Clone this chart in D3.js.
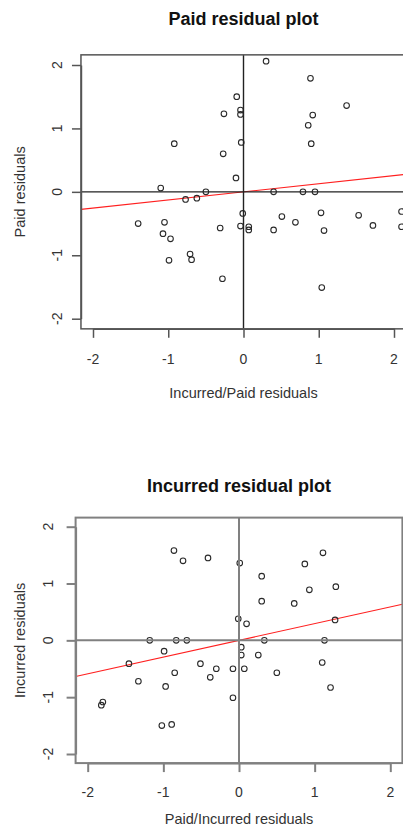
<!DOCTYPE html>
<html><head><meta charset="utf-8">
<script src="https://cdn.jsdelivr.net/npm/d3@7"></script>
<style>body{margin:0;background:#fff}svg{display:block}text{font-family:"Liberation Sans",Arial,Helvetica,sans-serif}</style>
</head><body>
<script>
// ---- Data ----
const xTicks = [-2, -1, 0, 1, 2];
const yTicks = [-2, -1, 0, 1, 2];

// Paid residual plot: x = Incurred/Paid residuals, y = Paid residuals
const paidX = [-0.09,-0.26,-0.04,-0.04,-0.92,-0.03,-0.27,-0.10,-1.10,-0.50,
               0.30,0.89,1.37,0.92,0.86,0.90,0.40,0.79,0.95,-0.77,
               -0.62,-1.40,-1.05,-1.07,-0.97,-0.71,-0.69,-0.99,-0.31,-0.04,
               -0.01,0.07,0.07,0.40,0.51,0.69,1.03,1.07,1.53,1.72,
               2.10,2.10,1.04,-0.28];
const paidY = [1.50,1.23,1.29,1.22,0.76,0.78,0.60,0.22,0.06,0.00,
               2.06,1.79,1.36,1.21,1.05,0.76,0.00,0.00,0.00,-0.12,
               -0.10,-0.50,-0.48,-0.66,-0.74,-0.98,-1.07,-1.08,-0.57,-0.54,
               -0.34,-0.55,-0.60,-0.60,-0.39,-0.48,-0.33,-0.61,-0.37,-0.53,
               -0.31,-0.55,-1.51,-1.37];
const paidFit = [0.0, 0.128]; // intercept, slope

// Incurred residual plot: x = Paid/Incurred residuals, y = Incurred residuals
const incX = [-0.86,-0.74,-0.41,0.01,-0.01,-1.18,-0.83,-0.69,-0.99,-1.455,
              -0.51,-0.85,-0.30,-0.08,-1.33,-0.38,-0.97,-0.08,-1.80,-1.82,
              -1.02,-0.89,1.11,0.87,0.30,1.28,0.93,0.30,0.73,0.10,
              1.27,0.335,1.13,0.03,0.03,0.255,0.07,0.50,1.10,1.21];
const incY = [1.58,1.40,1.45,1.36,0.38,0.00,0.00,0.00,-0.19,-0.41,
              -0.41,-0.57,-0.50,-0.50,-0.72,-0.65,-0.81,-1.01,-1.085,-1.14,
              -1.50,-1.48,1.54,1.345,1.13,0.945,0.89,0.69,0.65,0.29,
              0.36,0.00,0.00,-0.12,-0.26,-0.26,-0.50,-0.57,-0.39,-0.83];
const incFit = [0.0, 0.294];

const svg = d3.select("body").append("svg").attr("width", 403).attr("height", 827);

function panel(c) {
  const lim = 2.16;
  const x = d3.scaleLinear().domain([-2, 2]).range(c.xr);
  const y = d3.scaleLinear().domain([-2, 2]).range(c.yr);
  const x0 = x(-lim), x1 = x(lim), y0 = y(-lim), y1 = y(lim);
  const g = svg.append("g");

  g.append("defs").append("clipPath").attr("id", c.id)
    .append("rect").attr("x", x0).attr("y", y1).attr("width", x1 - x0).attr("height", y0 - y1);
  const plot = g.append("g").attr("clip-path", `url(#${c.id})`);

  // reference lines h=0, v=0
  g.append("line").attr("x1", x0).attr("x2", x1).attr("y1", y(0)).attr("y2", y(0))
    .attr("stroke", c.refCol).attr("stroke-width", c.refW);
  g.append("line").attr("x1", x(0)).attr("x2", x(0)).attr("y1", y1).attr("y2", y0)
    .attr("stroke", c.refCol).attr("stroke-width", c.refW);

  // fitted line
  plot.append("line")
    .attr("x1", x(-lim)).attr("y1", y(c.fit[0] + c.fit[1] * -lim))
    .attr("x2", x(lim)).attr("y2", y(c.fit[0] + c.fit[1] * lim))
    .attr("stroke", "#ff2020").attr("stroke-width", 1.1);

  // points
  plot.selectAll("circle").data(d3.range(c.xs.length)).join("circle")
    .attr("cx", i => x(c.xs[i])).attr("cy", i => y(c.ys[i])).attr("r", 2.8)
    .attr("fill", "none").attr("stroke", "#2a2a2a").attr("stroke-width", 1.1);

  // box
  g.append("rect").attr("x", x0).attr("y", y1).attr("width", x1 - x0).attr("height", y0 - y1)
    .attr("fill", "none").attr("stroke", c.boxCol).attr("stroke-width", c.boxW);

  // axes
  const ax = g.append("g").attr("transform", `translate(0,${y0})`)
    .call(d3.axisBottom(x).tickValues(xTicks).tickSize(9).tickSizeOuter(0).tickFormat(""));
  const ay = g.append("g").attr("transform", `translate(${x0},0)`)
    .call(d3.axisLeft(y).tickValues(yTicks).tickSize(9).tickSizeOuter(0).tickFormat(""));
  [ax, ay].forEach(a => {
    a.selectAll("path,line").attr("stroke", c.boxCol).attr("stroke-width", c.boxW);
  });

  g.selectAll("text.xt").data(xTicks).join("text").attr("class", "xt")
    .attr("x", d => x(d)).attr("y", y0 + c.xtOff).attr("text-anchor", "middle")
    .attr("font-size", 14).attr("fill", "#333").text(d => String(d));
  g.selectAll("text.yt").data(yTicks).join("text").attr("class", "yt")
    .attr("transform", d => `translate(${c.ytX},${y(d)}) rotate(-90)`)
    .attr("text-anchor", "middle").attr("font-size", 14).attr("fill", "#333").text(d => String(d));

  // titles
  g.append("text").attr("x", (x0 + x1) / 2).attr("y", c.titleY).attr("text-anchor", "middle")
    .attr("font-size", 18).attr("font-weight", "bold").attr("fill", "#111").text(c.title);
  g.append("text").attr("x", (x0 + x1) / 2).attr("y", c.xlabY).attr("text-anchor", "middle")
    .attr("font-size", 14.5).attr("fill", "#333").text(c.xlab);
  g.append("text").attr("transform", `translate(25,${(y0 + y1) / 2}) rotate(-90)`)
    .attr("text-anchor", "middle").attr("font-size", 14.5).attr("fill", "#333").text(c.ylab);
}

panel({id: "c1", xr: [93, 394], yr: [318.7, 65], xs: paidX, ys: paidY, fit: paidFit,
  title: "Paid residual plot", titleY: 25, xlab: "Incurred/Paid residuals", xlabY: 398,
  ylab: "Paid residuals", xtOff: 34.7, ytX: 61.5,
  refCol: "#222", refW: 1.4, boxCol: "#555", boxW: 1.5});

panel({id: "c2", xr: [87.7, 390.3], yr: [754, 526.7], xs: incX, ys: incY, fit: incFit,
  title: "Incurred residual plot", titleY: 492, xlab: "Paid/Incurred residuals", xlabY: 823.5,
  ylab: "Incurred residuals", xtOff: 34, ytX: 53,
  refCol: "#808080", refW: 2, boxCol: "#808080", boxW: 2});
</script>
</body></html>
